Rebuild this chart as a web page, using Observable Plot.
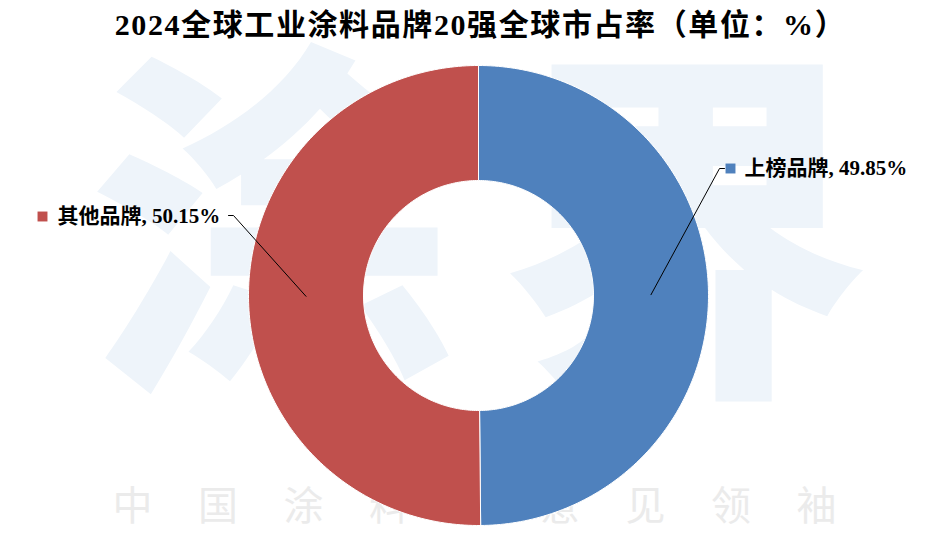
<!DOCTYPE html>
<html><head><meta charset="utf-8">
<script src="https://cdn.jsdelivr.net/npm/d3@7"></script>
<script src="https://cdn.jsdelivr.net/npm/@observablehq/plot@0.6"></script>
<style>
body{margin:0;background:#fff;}
#wrap{position:relative;width:947px;height:543px;}
#title{position:absolute;left:0;top:0;width:947px;height:48px;line-height:48px;text-align:center;font:bold 30px "Liberation Serif","Noto Sans CJK SC",serif;letter-spacing:1.6px;color:#000;padding-left:14px;box-sizing:border-box;white-space:nowrap;z-index:2}
#chart{position:absolute;left:0;top:0}
</style></head><body>
<div id="wrap"><div id="chart"></div><div id="title"></div></div>
<script>
// ---- data ----
const titleText = "2024全球工业涂料品牌20强全球市占率（单位：%）";
const categories = ["上榜品牌", "其他品牌"];
const shares = [49.85, 50.15];
const colors = ["#4F81BD", "#C0504D"];
const watermarkBig = ["涂", "界"];
const watermarkFooter = ["中", "国", "涂", "料", "界", "意", "见", "领", "袖"];

// ---- layout (chart units = pixels, donut centre = 0,0, y up) ----
const W = 947, H = 543;
const R_OUT = 230, R_IN = 115;
const xDomain = [-478, 469], yDomain = [-248, 295];
const labelLayout = [
  {elbow: [241, 127], end: [246, 127], marker: [252, 127], text: [266, 127]},
  {elbow: [-245, 80], end: [-250, 80], marker: [-436, 79], text: [-421, 79]}
];
const bigMarkLayout = [{x: -203, y: 50, sx: 0.93}, {x: 207, y: 46, sx: 0.97}];
const bigMarkScaleY = 1.33;
const footerLayout = {x0: -346, dx: 85.5, y: -212};

document.getElementById("title").textContent = titleText;

// ---- build slices from data ----
const total = d3.sum(shares);
let acc = 0;
const slices = categories.map((name, i) => {
  const a0 = acc / total * 2 * Math.PI;
  acc += shares[i];
  const a1 = acc / total * 2 * Math.PI;
  return {name, value: shares[i], a0, a1, am: (a0 + a1) / 2, i};
});
const polyPts = [];
for (const s of slices) {
  const n = Math.max(2, Math.ceil((s.a1 - s.a0) / (2 * Math.PI) * 360));
  const pts = [];
  for (let k = 0; k <= n; k++) {
    const t = s.a0 + (s.a1 - s.a0) * k / n;
    pts.push({name: s.name, x: R_OUT * Math.sin(t), y: R_OUT * Math.cos(t)});
  }
  for (let k = n; k >= 0; k--) {
    const t = s.a0 + (s.a1 - s.a0) * k / n;
    pts.push({name: s.name, x: R_IN * Math.sin(t), y: R_IN * Math.cos(t)});
  }
  pts.push({...pts[0]});
  polyPts.push(...pts);
}
const rMid = (R_OUT + R_IN) / 2;
const leaderPts = [];
const labels = [];
slices.forEach((s, i) => {
  const L = labelLayout[i];
  leaderPts.push({name: s.name, x: rMid * Math.sin(s.am), y: rMid * Math.cos(s.am)});
  leaderPts.push({name: s.name, x: L.elbow[0], y: L.elbow[1]});
  leaderPts.push({name: s.name, x: L.end[0], y: L.end[1]});
  labels.push({name: s.name, text: `${s.name}, ${s.value.toFixed(2)}%`, mx: L.marker[0], my: L.marker[1], tx: L.text[0], ty: L.text[1]});
});
const bigMarks = watermarkBig.map((c, i) => ({c, ...bigMarkLayout[i]}));
const footer = watermarkFooter.map((c, i) => ({c, x: footerLayout.x0 + i * footerLayout.dx, y: footerLayout.y}));

const chart = Plot.plot({
  width: W, height: H, margin: 0,
  x: {domain: xDomain, axis: null},
  y: {domain: yDomain, axis: null},
  color: {domain: categories, range: colors},
  style: {background: "transparent", overflow: "visible"},
  marks: [
    Plot.text(bigMarks, {x: "x", y: "y", text: "c", fontSize: 370, fontWeight: 900, fill: "#EEF4FA", fontFamily: "Noto Sans CJK SC", ariaLabel: "watermark"}),
    Plot.text(footer, {x: "x", y: "y", text: "c", fontSize: 40, fill: "#EBEBEB", fontFamily: "Noto Sans CJK SC"}),
    Plot.line(polyPts, {x: "x", y: "y", z: "name", fill: "name", stroke: "white", strokeWidth: 1, curve: "linear"}),
    Plot.line(leaderPts, {x: "x", y: "y", z: "name", stroke: "black", strokeWidth: 1}),
    Plot.dot(labels, {x: "mx", y: "my", symbol: "square", r: 5.6, fill: "name", stroke: null}),
    Plot.text(labels, {x: "tx", y: "ty", text: "text", textAnchor: "start", fontSize: 21, fontWeight: "bold", fill: "black", fontFamily: "Liberation Serif, Noto Sans CJK SC, serif"})
  ]
});
document.getElementById("chart").appendChild(chart);

// stretch the watermark glyphs (the reference's font is taller than wide)
const ns = "http://www.w3.org/2000/svg";
chart.querySelectorAll('g[aria-label="watermark"] text').forEach((el, i) => {
  const g = document.createElementNS(ns, "g");
  el.parentNode.insertBefore(g, el);
  g.appendChild(el);
  const bb = g.getBBox();
  const cx = bb.x + bb.width / 2, cy = bb.y + bb.height / 2;
  g.setAttribute("transform", `translate(${cx},${cy}) scale(${bigMarks[i].sx},${bigMarkScaleY}) translate(${-cx},${-cy})`);
});
</script>
</body></html>
